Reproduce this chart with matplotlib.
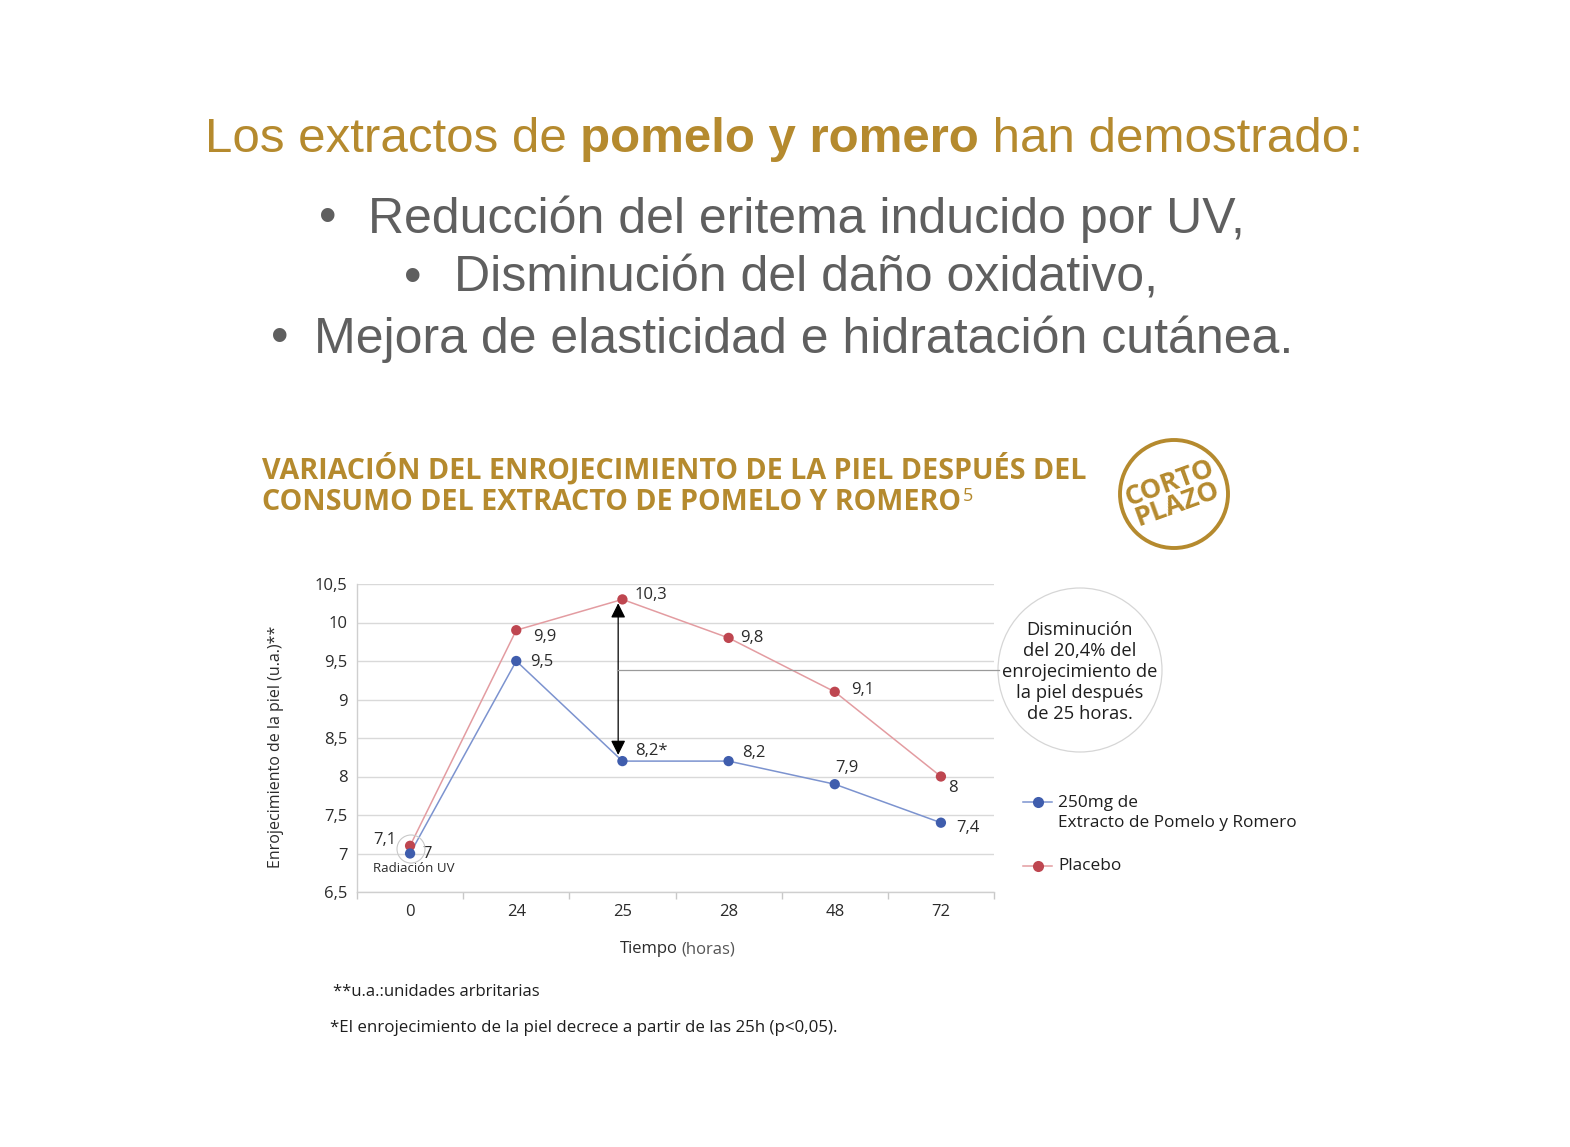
import matplotlib
matplotlib.use("Agg")
import matplotlib.pyplot as plt
from matplotlib import font_manager
from matplotlib.patches import Ellipse
from matplotlib.lines import Line2D

W, H = 1570, 1147

# ── data ──────────────────────────────────────────────────────────────
hours = ["0", "24", "25", "28", "48", "72"]
extracto = [7.0, 9.5, 8.2, 8.2, 7.9, 7.4]
placebo = [7.1, 9.9, 10.3, 9.8, 9.1, 8.0]
extracto_labels = ["7", "9,5", "8,2*", "8,2", "7,9", "7,4"]
placebo_labels = ["7,1", "9,9", "10,3", "9,8", "9,1", "8"]
yticks = [6.5, 7, 7.5, 8, 8.5, 9, 9.5, 10, 10.5]

GOLD = "#B58A2E"
GRAY_TXT = "#5F5F5F"
BLUE = "#3F5DAD"
BLUE_LINE = "#7C93CF"
RED = "#BE4650"
RED_LINE = "#E39CA1"
DARK = "#2B2B2B"


def have(name):
    try:
        font_manager.findfont(name, fallback_to_default=False)
        return True
    except Exception:
        return False


NARROW = "Liberation Sans Narrow" if have("Liberation Sans Narrow") else "Open Sans"
BODY = "Open Sans"
HEAD = "Liberation Sans"

fig = plt.figure(figsize=(W / 100, H / 100), dpi=100)
fig.patch.set_facecolor("white")


def fx(px):
    return px / W


def fy(py):
    return 1 - py / H


# ── headline ──────────────────────────────────────────────────────────
r = fig.canvas.get_renderer()
parts = [("Los extractos de ", "normal"), ("pomelo y romero", "bold"),
         (" han demostrado:", "normal")]
texts = []
for s, w in parts:
    texts.append(fig.text(0, fy(139), s, fontsize=35.5, color=GOLD, fontweight=w,
                          family=HEAD, va="center", ha="left"))
widths = [t.get_window_extent(r).width for t in texts]
x0 = 784 - sum(widths) / 2
for t, wd in zip(texts, widths):
    t.set_x(fx(x0))
    x0 += wd

bullets = [("Reducción del eritema inducido por UV,", 219, 328, 368),
           ("Disminución del daño oxidativo,", 279, 413, 454),
           ("Mejora de elasticidad e hidratación cutánea.", 339, 280, 314)]
for s, yy, bx, tx in bullets:
    fig.text(fx(bx), fy(yy), "•", fontsize=36, color=GRAY_TXT, family=HEAD,
             va="center", ha="center")
    fig.text(fx(tx), fy(yy), s, fontsize=36, color=GRAY_TXT, family=HEAD,
             va="center", ha="left")

# ── chart title ───────────────────────────────────────────────────────
fig.text(fx(262), fy(469), "VARIACIÓN DEL ENROJECIMIENTO DE LA PIEL DESPUÉS DEL",
         fontsize=20.6, color=GOLD, fontweight="bold", family=NARROW, va="center")
t2 = fig.text(fx(262), fy(503), "CONSUMO DEL EXTRACTO DE POMELO Y ROMERO",
              fontsize=20.6, color=GOLD, fontweight="bold", family=NARROW, va="center")
bb = t2.get_window_extent(r)
fig.text(fx(bb.x1 + 2), fy(496), "5", fontsize=13, color=GOLD, family=NARROW,
         va="center", ha="left")

# stamp
fig.add_artist(Ellipse((fx(1174), fy(494)), 108 / W, 108 / H, fill=False,
                       edgecolor=GOLD, lw=2.8))
fig.text(fx(1174), fy(494), "CORTO\nPLAZO", fontsize=19.5, fontweight="bold",
         color=GOLD, family=BODY, rotation=20, ha="center", va="center",
         linespacing=0.82, rotation_mode="anchor")

# ── axes ──────────────────────────────────────────────────────────────
ax = fig.add_axes([fx(357), fy(892), fx(994) - fx(357), (892 - 584) / H])
x = list(range(len(hours)))
ax.set_xlim(-0.5, len(hours) - 0.5)
ax.set_ylim(6.5, 10.5)
ax.set_yticks(yticks)
ax.set_yticklabels([f"{v:g}".replace(".", ",") for v in yticks],
                   family=NARROW, fontsize=12, color=DARK)
ax.set_xticks(x)
ax.set_xticklabels(hours, family=NARROW, fontsize=12, color=DARK)
ax.set_xticks([i + 0.5 for i in range(-1, len(hours))], minor=True)
ax.tick_params(axis="x", which="major", length=0, pad=9)
ax.tick_params(axis="x", which="minor", length=5, color="#C8C8C8", width=1)
ax.tick_params(axis="y", length=0, pad=7)
ax.grid(axis="y", color="#D9D9D9", lw=1)
ax.set_axisbelow(True)
for side in ["top", "right"]:
    ax.spines[side].set_visible(False)
for side in ["left", "bottom"]:
    ax.spines[side].set_color("#CFCFCF")
    ax.spines[side].set_linewidth(1)

ax.plot(x, placebo, color=RED_LINE, lw=1.1, zorder=3)
ax.plot(x, extracto, color=BLUE_LINE, lw=1.1, zorder=3)
ax.scatter(x, placebo, s=55, color=RED, zorder=4, edgecolor="none")
ax.scatter(x, extracto, s=55, color=BLUE, zorder=5, edgecolor="none")

# data labels (offsets in points)
p_off = [(-10, 4, "right"), (12, -5, "left"), (9, 3, "left"),
         (8, 0, "left"), (12, 1, "left"), (5, -8, "left")]
e_off = [(9, 0, "left"), (10, -1, "left"), (9, 7, "left"),
         (10, 6, "left"), (0, 12, "left"), (11, -4, "left")]
for i in x:
    dx, dy, ha = p_off[i]
    ax.annotate(placebo_labels[i], (i, placebo[i]), xytext=(dx, dy),
                textcoords="offset points", ha=ha, va="center", fontsize=12,
                color=DARK, family=NARROW, annotation_clip=False)
    dx, dy, ha = e_off[i]
    ax.annotate(extracto_labels[i], (i, extracto[i]), xytext=(dx, dy),
                textcoords="offset points", ha=ha, va="center", fontsize=12,
                color=DARK, family=NARROW, annotation_clip=False)

# UV radiation marker
fig.add_artist(Ellipse((fx(411), fy(849)), 28 / W, 28 / H, fill=False,
                       edgecolor="#C9C9C9", lw=0.8))
fig.text(fx(373), fy(869), "Radiación UV", fontsize=9.5, color=DARK,
         family=BODY, va="center")

# difference arrow at 25 h
ax.annotate("", xy=(1.96, placebo[2] - 0.05), xytext=(1.96, extracto[2] + 0.08),
            arrowprops=dict(arrowstyle="<|-|>", color="black", lw=0.9,
                            mutation_scale=22, shrinkA=0, shrinkB=0))
fig.add_artist(Line2D([fx(617), fx(999)], [fy(670), fy(670)], color="#9A9A9A",
                      lw=0.9))

# callout circle
fig.add_artist(Ellipse((fx(1080), fy(670)), 164 / W, 164 / H, facecolor="white",
                       edgecolor="#D6D6D6", lw=0.9))
fig.text(fx(1080), fy(672), "Disminución\ndel 20,4% del\nenrojecimiento de\n"
         "la piel después\nde 25 horas.", fontsize=13.2, color="#1E1E1E",
         family=BODY, ha="center", va="center", linespacing=1.2)

fig.text(fx(276), fy(747), "Enrojecimiento de la piel (u.a.)**", family=BODY,
         fontsize=11.5, color=DARK, rotation=90, ha="center", va="center")
xl = fig.text(fx(620), fy(949), "Tiempo", fontsize=12, color=DARK, family=BODY,
              va="center", ha="left")
bx = xl.get_window_extent(r)
fig.text(fx(bx.x1 + 4), fy(949), "(horas)", fontsize=12, color="#555555",
         family=NARROW, va="center", ha="left")

# legend
for yy, c, lc in [(802, BLUE, BLUE_LINE), (866, RED, RED_LINE)]:
    fig.add_artist(Line2D([fx(1023), fx(1052)], [fy(yy), fy(yy)], color=lc,
                          lw=1.1))
    fig.add_artist(Line2D([fx(1038)], [fy(yy)], marker="o", markersize=8,
                          color=c, markeredgecolor="none"))
fig.text(fx(1058), fy(813), "250mg de\nExtracto de Pomelo y Romero", fontsize=12.4,
         color="#1E1E1E", family=BODY, va="center", linespacing=1.3)
fig.text(fx(1058), fy(866), "Placebo", fontsize=12.4, color="#1E1E1E",
         family=BODY, va="center")

# footnotes
fig.text(fx(333), fy(992), "**u.a.:unidades arbritarias", fontsize=12,
         color="#1E1E1E", family=NARROW, va="center")
fig.text(fx(330), fy(1028),
         "*El enrojecimiento de la piel decrece a partir de las 25h (p<0,05).",
         fontsize=12.2, color="#1E1E1E", family=NARROW, va="center")

fig.savefig("out.png", dpi=100, facecolor="white")
